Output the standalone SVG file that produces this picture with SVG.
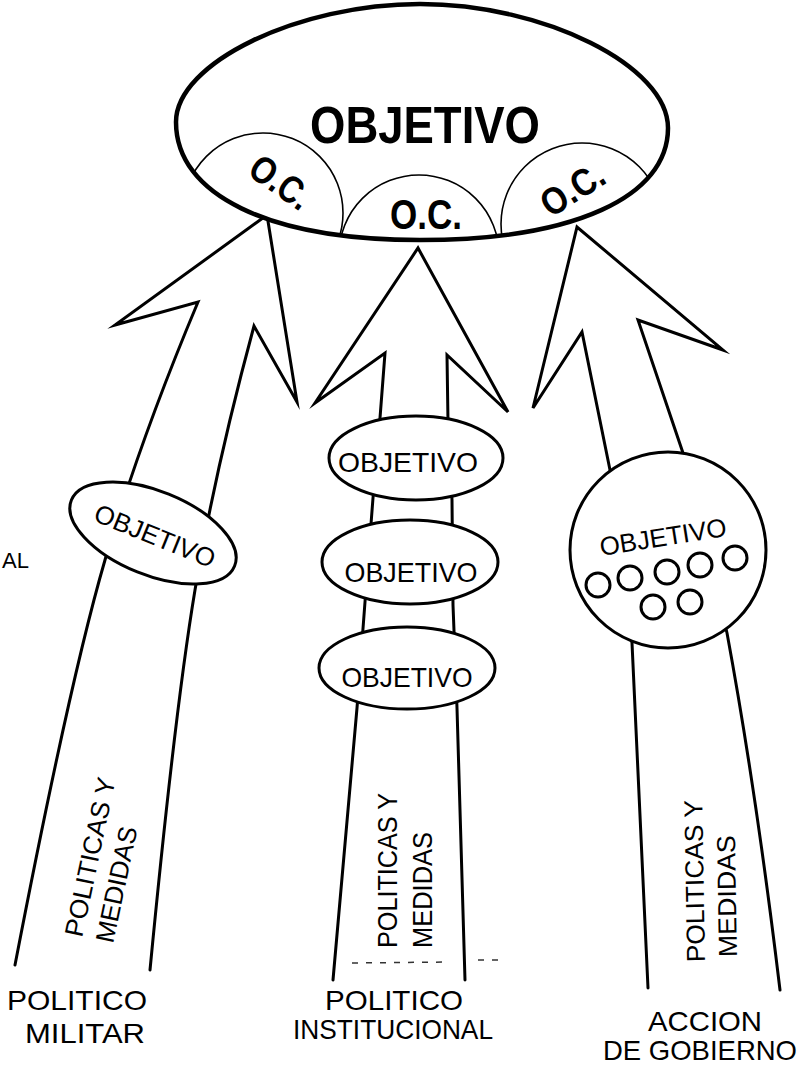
<svg xmlns="http://www.w3.org/2000/svg" width="805" height="1069" viewBox="0 0 805 1069">
<defs>
<style>
.ln{fill:none;stroke:#000;stroke-width:3;stroke-linejoin:miter;stroke-miterlimit:6;stroke-linecap:round}
.nd{fill:#fff;stroke:#000;stroke-width:3}
.big{fill:#fff;stroke:#000;stroke-width:4.5}
.arc{fill:none;stroke:#000;stroke-width:1.6}
.t{font-family:"Liberation Sans","DejaVu Sans",sans-serif;fill:#000}
.lab{font-size:28px;text-anchor:middle}
.obj{font-size:28px;text-anchor:middle}
.pm{font-size:26px}
.b{font-weight:bold}
</style>
<path id="bigshape" d="M176,122 C176,63 298,4 420,4 C544,4 668,66 668,128 C668,197 574,240 420,240 C269,240 176,195 176,122 Z"/>
<clipPath id="clipBig"><use href="#bigshape"/></clipPath>
</defs>
<rect x="0" y="0" width="805" height="1069" fill="#fff"/>

<g id="connectors">
  <path id="arrow-militar" class="ln" d="M15,965 Q70,680 105,560 Q140,440 198,302 L115,325 L267,215 L297,402 L254,326 Q215,470 195,590 Q175,710 150,970"/>
  <path id="arrow-institucional" class="ln" d="M333,980 L357,708 L365,602 L373,498 L380,418 L385,353 L315,403 L418,248 L508,412 L447,355 L448,422 L452,500 L453,605 L457,708 L465,980"/>
  <path id="arrow-gobierno" class="ln" d="M648,988 L632,643 L610,470 L582,332 L533,408 L577,227 L723,350 L638,320 L683,453 L727,633 Q756,790 780,990"/>
  <path id="scan-dashes" d="M352,963 L450,962 M478,960 L500,960" fill="none" stroke="#333" stroke-width="1.5" stroke-dasharray="6 8"/>
</g>

<g id="objetivo-principal">
  <use href="#bigshape" class="big"/>
  <g clip-path="url(#clipBig)">
    <circle class="arc" cx="263" cy="213" r="80"/>
    <circle class="arc" cx="419" cy="255" r="80"/>
    <circle class="arc" cx="582" cy="224" r="81"/>
  </g>
  <text class="t b" x="425" y="143" font-size="52" text-anchor="middle" textLength="230" lengthAdjust="spacingAndGlyphs">OBJETIVO</text>
  <text class="t b" transform="translate(280,183) rotate(35)" x="0" y="12" font-size="38" text-anchor="middle" textLength="66" lengthAdjust="spacingAndGlyphs">O.C.</text>
  <text class="t b" x="426" y="229" font-size="42" text-anchor="middle" textLength="72" lengthAdjust="spacingAndGlyphs">O.C.</text>
  <text class="t b" transform="translate(573,190) rotate(-32)" x="0" y="12" font-size="38" text-anchor="middle" textLength="68" lengthAdjust="spacingAndGlyphs">O.C.</text>
</g>

<g id="objetivo-militar">
  <ellipse class="nd" cx="153" cy="533" rx="88" ry="42" transform="rotate(22 153 533)"/>
  <text class="t" transform="translate(155,536) rotate(22)" x="0" y="9" font-size="26" text-anchor="middle" textLength="128" lengthAdjust="spacingAndGlyphs">OBJETIVO</text>
</g>

<g id="objetivo-inst-1">
  <ellipse class="nd" cx="416" cy="458" rx="87" ry="42"/>
  <text class="t obj" x="408" y="472" textLength="140" lengthAdjust="spacingAndGlyphs">OBJETIVO</text>
</g>
<g id="objetivo-inst-2">
  <ellipse class="nd" cx="410" cy="562" rx="88" ry="42"/>
  <text class="t obj" x="411" y="582" textLength="133" lengthAdjust="spacingAndGlyphs">OBJETIVO</text>
</g>
<g id="objetivo-inst-3">
  <ellipse class="nd" cx="407" cy="668" rx="88" ry="41"/>
  <text class="t obj" x="407" y="687" textLength="131" lengthAdjust="spacingAndGlyphs">OBJETIVO</text>
</g>

<g id="objetivo-gobierno">
  <circle class="nd" cx="668" cy="550" r="98"/>
  <text class="t" transform="translate(663,537) rotate(-9)" x="0" y="9" font-size="26" text-anchor="middle" textLength="128" lengthAdjust="spacingAndGlyphs">OBJETIVO</text>
  <g fill="none" stroke="#000" stroke-width="3">
    <circle cx="598" cy="585" r="12"/>
    <circle cx="630" cy="578" r="12"/>
    <circle cx="667" cy="572" r="12"/>
    <circle cx="700" cy="565" r="12"/>
    <circle cx="735" cy="558" r="12"/>
    <circle cx="653" cy="607" r="12"/>
    <circle cx="690" cy="602" r="12"/>
  </g>
</g>

<g id="politicas-militar">
  <text class="t pm" transform="translate(82,938) rotate(-78)" textLength="162" lengthAdjust="spacingAndGlyphs">POLITICAS Y</text>
  <text class="t pm" transform="translate(113,944) rotate(-78)" textLength="118" lengthAdjust="spacingAndGlyphs">MEDIDAS</text>
</g>
<g id="politicas-institucional">
  <text class="t" font-size="28" transform="translate(397,948) rotate(-90)" textLength="155" lengthAdjust="spacingAndGlyphs">POLITICAS Y</text>
  <text class="t" font-size="28" transform="translate(432,948) rotate(-90)" textLength="116" lengthAdjust="spacingAndGlyphs">MEDIDAS</text>
</g>
<g id="politicas-gobierno">
  <text class="t pm" transform="translate(705,962) rotate(-91)" textLength="162" lengthAdjust="spacingAndGlyphs">POLITICAS Y</text>
  <text class="t pm" transform="translate(737,957) rotate(-91)" textLength="122" lengthAdjust="spacingAndGlyphs">MEDIDAS</text>
</g>

<g id="label-militar">
  <text class="t lab" x="77" y="1010" textLength="140" lengthAdjust="spacingAndGlyphs">POLITICO</text>
  <text class="t lab" x="85" y="1043" textLength="120" lengthAdjust="spacingAndGlyphs">MILITAR</text>
</g>
<g id="label-institucional">
  <text class="t lab" x="394" y="1010" textLength="138" lengthAdjust="spacingAndGlyphs">POLITICO</text>
  <text class="t lab" x="393" y="1039" textLength="200" lengthAdjust="spacingAndGlyphs">INSTITUCIONAL</text>
</g>
<g id="label-gobierno">
  <text class="t lab" x="705" y="1031" textLength="114" lengthAdjust="spacingAndGlyphs">ACCION</text>
  <text class="t lab" x="700" y="1060" textLength="194" lengthAdjust="spacingAndGlyphs">DE GOBIERNO</text>
</g>

<g id="label-al">
  <text class="t" x="2" y="568" font-size="22">AL</text>
</g>
</svg>
